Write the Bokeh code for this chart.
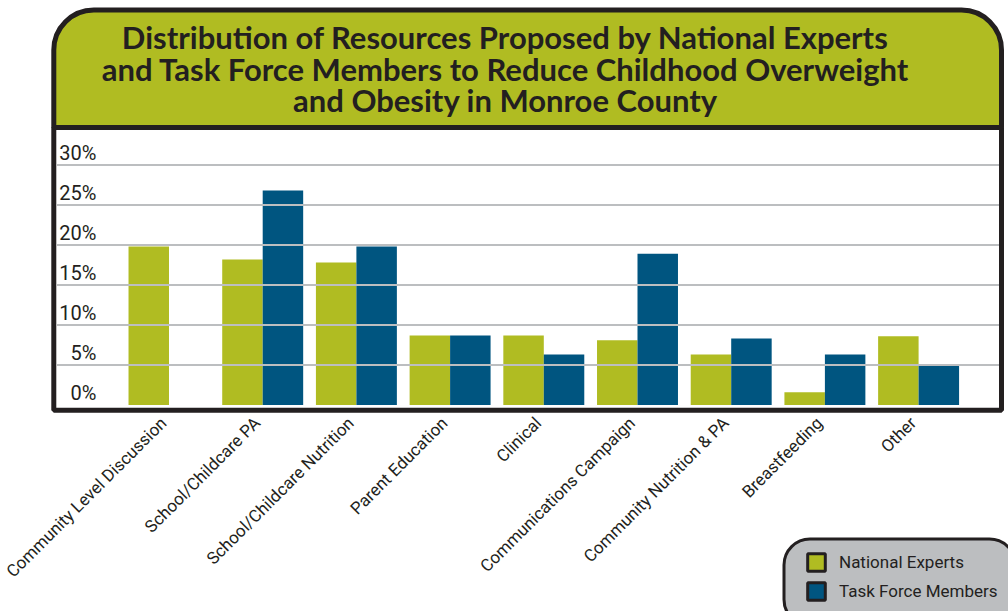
from math import pi
from bokeh.plotting import figure
from bokeh.models import (Range1d, FixedTicker, ColumnDataSource, Label,
                          BoxAnnotation, Legend, LegendItem, CDSView, IndexFilter)
from bokeh.transform import dodge
from bokeh.embed import file_html
from bokeh.resources import INLINE

# ---------------- data ----------------
categories = [
    "Community Level Discussion",
    "School/Childcare PA",
    "School/Childcare Nutrition",
    "Parent Education",
    "Clinical",
    "Communications Campaign",
    "Community Nutrition & PA",
    "Breastfeeding",
    "Other",
]
national_experts = [19.8, 18.2, 17.8, 8.7, 8.7, 8.1, 6.3, 1.6, 8.6]
task_force_members = [0.0, 26.8, 19.8, 8.7, 6.3, 18.9, 8.3, 6.3, 4.9]
y_ticks = [0, 5, 10, 15, 20, 25, 30]
title_lines = [
    "Distribution of Resources Proposed by National Experts",
    "and Task Force Members to Reduce Childhood Overweight",
    "and Obesity in Monroe County",
]
series_names = ["National Experts", "Task Force Members"]

# ---------------- style / layout ----------------
GREEN = "#b0bc22"
BLUE = "#005580"
DARK = "#231f20"
GRID = "#bcbec0"
LEG_BG = "#bcbec0"
LABEL_FONT = "Roboto"
TITLE_FONT = "Lato"

W, H = 1008, 611
PX0, PXU = 168.5, 93.7   # pixel of first category centre, pixels per category
PY0, PYU = 404.5, 8.0    # pixel of 0 %, pixels per percent


def xd(px):
    return (px - PX0) / PXU


def sy(py):
    return H - py


p = figure(width=W, height=H, output_backend="svg", toolbar_location=None,
           x_range=Range1d(xd(0), xd(W)),
           y_range=Range1d((PY0 - H) / PYU, PY0 / PYU),
           min_border=0, min_border_left=0, min_border_right=0,
           min_border_top=0, min_border_bottom=0)
p.background_fill_color = "white"
p.border_fill_color = "white"
p.outline_line_color = None
p.xgrid.visible = False
p.ygrid.visible = False
p.yaxis.visible = False

idx = list(range(len(categories)))
src = ColumnDataSource(dict(x=idx, cat=categories,
                            ne=national_experts, tf=task_force_members))
bw = 0.432

# legend swatch renderers (dark-outlined); drawn at the lowest level and
# hidden under the plot-area box, used only for the legend glyphs
first_only = CDSView(filter=IndexFilter(indices=[0]))
r_ne = p.vbar(x=dodge("x", -bw / 2), top="ne", width=bw, source=src, view=first_only,
              fill_color=GREEN, line_color=DARK, line_width=3, level="image")
r_tf = p.vbar(x=dodge("x", bw / 2), top="tf", width=bw, source=src, view=first_only,
              fill_color=BLUE, line_color=DARK, line_width=3, level="image")

# plot area box
p.add_layout(BoxAnnotation(left=53.3, right=1001, top=sy(127), bottom=sy(409.7),
                           left_units="screen", right_units="screen",
                           top_units="screen", bottom_units="screen",
                           fill_color="white", fill_alpha=1.0,
                           line_color=DARK, line_alpha=1.0, line_width=5,
                           level="underlay"))

# bars
p.vbar(x=dodge("x", -bw / 2), top="ne", width=bw, source=src,
       fill_color=GREEN, line_color=None)
p.vbar(x=dodge("x", bw / 2), top="tf", width=bw, source=src,
       fill_color=BLUE, line_color=None)

# horizontal grid lines drawn over the bars
gsrc = ColumnDataSource(dict(y=y_ticks[1:]))
p.segment(x0=xd(56), x1=xd(998.5), y0="y", y1="y", source=gsrc,
          line_color=GRID, line_width=2, level="overlay")

# x axis (category names, rotated)
label_dx = -0.06
ticks = [i + label_dx for i in idx]
p.xaxis.fixed_location = (PY0 - 412.5) / PYU
p.xaxis.ticker = FixedTicker(ticks=ticks)
p.xaxis.major_label_overrides = {t: c for t, c in zip(ticks, categories)}
p.xaxis.major_label_orientation = pi / 4
p.xaxis.axis_line_color = None
p.xaxis.major_tick_line_color = None
p.xaxis.minor_tick_line_color = None
p.xaxis.major_tick_out = 0
p.xaxis.major_label_standoff = 7
p.xaxis.major_label_text_font = LABEL_FONT
p.xaxis.major_label_text_font_size = "17px"
p.xaxis.major_label_text_color = DARK

# y tick labels inside the plot, sitting on the grid lines
for t in y_ticks:
    p.add_layout(Label(x=96, x_units="screen", y=t, y_units="data",
                       text=f"{t}%", text_align="right",
                       text_baseline="alphabetic", y_offset=12,
                       text_font=LABEL_FONT, text_font_size="20px",
                       text_color=DARK))

# title panel
p.add_layout(BoxAnnotation(left=53.3, right=1001, top=sy(9.5), bottom=sy(127),
                           left_units="screen", right_units="screen",
                           top_units="screen", bottom_units="screen",
                           fill_color=GREEN, fill_alpha=1.0,
                           line_color=DARK, line_alpha=1.0, line_width=5,
                           border_radius=(40, 40, 0, 0)))
for line, base in zip(title_lines, [36, 68, 99]):
    p.add_layout(Label(x=505, y=sy(base), x_units="screen", y_units="screen",
                       text=line, text_align="center", text_baseline="alphabetic",
                       text_font=TITLE_FONT, text_font_style="bold",
                       text_font_size="31px", text_color=DARK))

# legend
p.add_layout(BoxAnnotation(left=783.5, right=1015, top=sy(538.5), bottom=-14,
                           left_units="screen", right_units="screen",
                           top_units="screen", bottom_units="screen",
                           fill_color=LEG_BG, fill_alpha=1.0,
                           line_color=DARK, line_alpha=1.0, line_width=3,
                           border_radius=26))
legend = Legend(items=[LegendItem(label=series_names[0], renderers=[r_ne]),
                       LegendItem(label=series_names[1], renderers=[r_tf])],
                location=(805, 9), background_fill_alpha=0,
                border_line_color=None, glyph_width=22, glyph_height=22,
                label_height=22, spacing=7, padding=0, margin=0,
                label_standoff=12, label_text_font=LABEL_FONT,
                label_text_font_size="17px", label_text_color=DARK)
p.add_layout(legend)

open("out.html", "w").write(file_html(p, INLINE))
